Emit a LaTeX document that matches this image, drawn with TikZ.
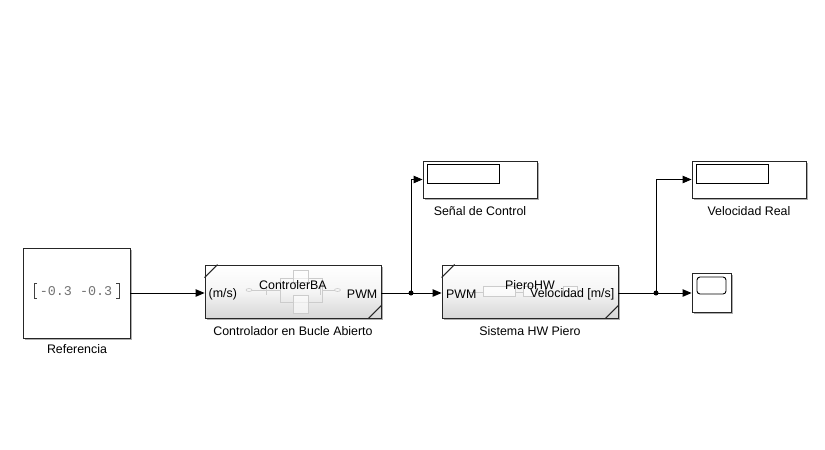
\documentclass[tikz,border=0pt]{standalone}
\usepackage{fontspec}
\setmainfont{Liberation Sans}
\setmonofont{Liberation Mono}
\usetikzlibrary{arrows.meta,shadows}
\begin{document}
\begin{tikzpicture}[x=1pt,y=-1pt,
  font=\fontsize{12.4}{14}\selectfont,
  blk/.style={draw=black!85, line width=0.9pt, fill=white, rectangle, inner sep=0pt,
     drop shadow={shadow xshift=2.2pt, shadow yshift=-2.2pt, fill=black!45, opacity=0.7}},
  subsys/.style={blk, top color=white, bottom color=black!16, middle color=black!4},
  sig/.style={line width=0.9pt, -{Triangle[length=9pt,width=7.5pt]}},
  wire/.style={line width=0.9pt},
  dot/.style={circle, fill=black, inner sep=0pt, minimum size=5pt},
  lbl/.style={inner sep=0pt, anchor=center},
  faint/.style={draw=black!20, line width=0.6pt},
  faintbox/.style={faint, fill=white, fill opacity=0.6},
  corner/.style={line width=1.1pt, draw=black!85}]
\useasboundingbox (0,0) rectangle (825,450);

% blocks
\node[blk, minimum width=107pt, minimum height=90pt] (ref) at (76.5,293) {};
\node[subsys, minimum width=176pt, minimum height=53pt] (ctrl) at (293,291.5) {};
\node[subsys, minimum width=176pt, minimum height=53pt] (hw) at (530,291.5) {};
\node[blk, minimum width=114pt, minimum height=37pt] (sen) at (480,179.5) {};
\node[blk, minimum width=114pt, minimum height=37pt] (vel) at (749,179.5) {};
\node[blk, minimum width=39pt, minimum height=39pt] (scope) at (711.5,292.5) {};

% Referencia content
\draw[line width=0.8pt, draw=black!75] (37,283) -- (34,283) -- (34,298) -- (37,298);
\draw[line width=0.8pt, draw=black!75] (116,283) -- (119,283) -- (119,298) -- (116,298);
\node[lbl, text=black!55, font=\ttfamily\fontsize{13.4}{15}\selectfont] (refval) at (76,291) {-0.3 -0.3};

% display inner rectangles
\draw[line width=0.9pt] (427,164) rectangle (499,183);
\draw[line width=0.9pt] (696,164) rectangle (768,183);
\draw[line width=0.9pt, rounded corners=3pt] (697,277) rectangle (726,294);

% controller icon (faint)
\draw[faint] (249,290) ellipse (3pt and 1.5pt);
\draw[faint] (252,290) -- (266,290);
\draw[faint] (266,286) -- (266,295);
\draw[faint] (266,290) -- (280,290);
\draw[faint] (280,278) rectangle (322,302);
\draw[faintbox] (293,270) rectangle (308,282);
\draw[faintbox] (293,295) rectangle (308,313);
\draw[faint] (320,286) -- (320,295);
\draw[faint] (322,290) -- (335,290);
\draw[faint] (337.5,290) ellipse (3pt and 1.5pt);

% HW icon (faint)
\draw[faint] (470,292) -- (483,292);
\draw[faintbox] (483,286) rectangle (515,296);
\draw[faint] (515,292) -- (523,292);
\draw[faintbox] (523,286) rectangle (535,296);
\draw[faintbox] (563,286) rectangle (577,296);

% corner marks
\draw[corner] ([yshift=-13pt]ctrl.north west) -- ([xshift=13pt]ctrl.north west);
\draw[corner] ([xshift=-13pt]ctrl.south east) -- ([yshift=13pt]ctrl.south east);
\draw[corner] ([yshift=-13pt]hw.north west) -- ([xshift=13pt]hw.north west);
\draw[corner] ([xshift=-13pt]hw.south east) -- ([yshift=13pt]hw.south east);

% inner texts
\node[lbl] (ctrlname) at (293,285) {ControlerBA};
\node[lbl, anchor=west] (ctrlin) at (208.5,294) {(m/s)};
\node[lbl, anchor=east] (ctrlout) at (377.5,294) {PWM};
\node[lbl] (hwname) at (530,285) {PieroHW};
\node[lbl, anchor=west] (hwin) at (446,294) {PWM};
\node[lbl, anchor=east] (hwout) at (614.5,294) {Velocidad [m/s]};

% labels
\node[lbl] (reflbl) at (77,349) {Referencia};
\node[lbl] (ctrllbl) at (293,331) {Controlador en Bucle Abierto};
\node[lbl] (hwlbl) at (530,331) {Sistema HW Piero};
\node[lbl] (senlbl) at (480,211) {Señal de Control};
\node[lbl] (vellbl) at (749,211) {Velocidad Real};

% connectors
\coordinate (b1) at (411,293);
\coordinate (b2) at (656,293);
\draw[sig] (ref.east |- b1) -- (ctrl.west |- b1);
\draw[wire] (ctrl.east |- b1) -- (b1);
\draw[sig] (b1) -- (hw.west |- b1);
\draw[sig] (b1) |- (sen.west);
\draw[wire] (hw.east |- b2) -- (b2);
\draw[sig] (b2) -- (scope.west |- b2);
\draw[sig] (b2) |- (vel.west);
\node[dot] at (b1) {};
\node[dot] at (b2) {};
\end{tikzpicture}
\end{document}
